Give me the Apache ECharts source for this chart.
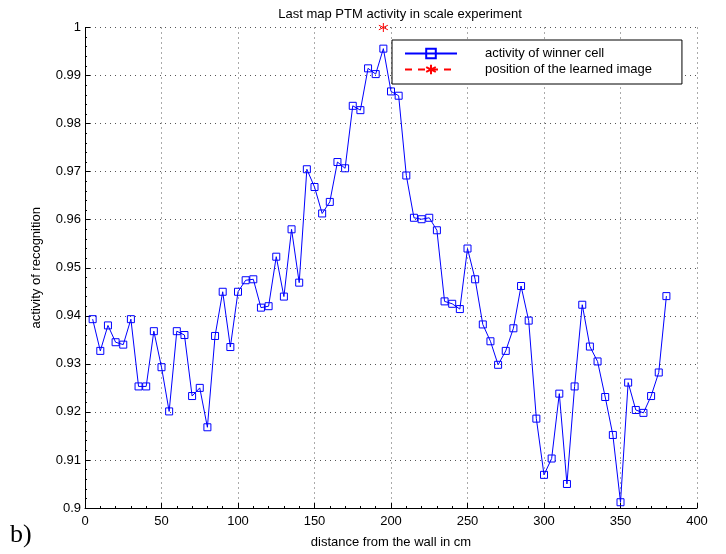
<!DOCTYPE html>
<html>
<head>
<meta charset="utf-8">
<script src="https://cdn.jsdelivr.net/npm/echarts@6/dist/echarts.min.js"></script>
<style>html,body{margin:0;padding:0;background:#fff}#c{width:726px;height:554px}</style>
</head>
<body>
<div id="c"></div>
<script>
var distances = [5,10,15,20,25,30,35,40,45,50,55,60,65,70,75,80,85,90,95,100,105,110,115,120,125,130,135,140,145,150,155,160,165,170,175,180,185,190,195,200,205,210,215,220,225,230,235,240,245,250,255,260,265,270,275,280,285,290,295,300,305,310,315,320,325,330,335,340,345,350,355,360,365,370,375,380];
var activity = [0.9393,0.9327,0.938,0.9345,0.934,0.9393,0.9253,0.9253,0.9368,0.9293,0.9201,0.9368,0.936,0.9233,0.925,0.9168,0.9358,0.945,0.9335,0.945,0.9474,0.9476,0.9417,0.942,0.9523,0.944,0.958,0.9469,0.9705,0.9668,0.9613,0.9637,0.972,0.9707,0.9837,0.9828,0.9915,0.9903,0.9956,0.9867,0.9858,0.9692,0.9604,0.9601,0.9604,0.9578,0.943,0.9425,0.9414,0.954,0.9476,0.9382,0.9347,0.9298,0.9327,0.9374,0.9462,0.939,0.9186,0.9069,0.9103,0.9238,0.905,0.9253,0.9423,0.9336,0.9305,0.9231,0.9152,0.9012,0.9261,0.9204,0.9198,0.9233,0.9282,0.9441];
var learnedX = [195];
var learnedY = [1.0];
var seriesNames = ['activity of winner cell', 'position of the learned image'];
var titleText = 'Last map PTM activity in scale experiment';
var xName = 'distance from the wall in cm';
var yName = 'activity of recognition';

var font = 'Liberation Sans, Arial, sans-serif';
var chart = echarts.init(document.getElementById('c'));
var star = 'path://M0,-5L0,5M-4.3,-2.5L4.3,2.5M-4.3,2.5L4.3,-2.5';
chart.setOption({
  animation: false,
  backgroundColor: '#fff',
  title: {
    text: titleText, left: 395, top: 3, textAlign: 'center',
    textStyle: {fontFamily: font, fontSize: 13, fontWeight: 'normal', color: '#000'}
  },
  grid: {left: 85, right: 29, top: 27.5, bottom: 44.5, show: false},
  legend: {
    orient: 'vertical', left: 392, top: 40,
    padding: [7, 30, 8, 12],
    itemGap: 3, itemWidth: 52, itemHeight: 12,
    borderColor: '#000', borderWidth: 1, backgroundColor: '#fff',
    textStyle: {fontFamily: font, fontSize: 13, color: '#000', padding: [0, 0, 0, 23]},
    data: [{name: seriesNames[0]}, {name: seriesNames[1]}]
  },
  xAxis: {
    type: 'value', min: 0, max: 400, interval: 50,
    name: xName, nameLocation: 'middle', nameGap: 28,
    nameTextStyle: {fontFamily: font, fontSize: 13, color: '#000'},
    axisLine: {onZero: false, lineStyle: {color: '#000', width: 1}},
    axisTick: {inside: true, length: 5, lineStyle: {color: '#000'}},
    minorTick: {show: true, splitNumber: 5, length: 2, lineStyle: {color: '#000'}},
    axisLabel: {fontFamily: font, fontSize: 13, color: '#000', margin: 7},
    splitLine: {show: true, lineStyle: {color: '#555', type: [1, 4], width: 1}}
  },
  yAxis: {
    type: 'value', min: 0.9, max: 1, interval: 0.01,
    name: yName, nameLocation: 'middle', nameGap: 42, nameRotate: 90,
    nameTextStyle: {fontFamily: font, fontSize: 13, color: '#000'},
    axisLine: {onZero: false, lineStyle: {color: '#000', width: 1}},
    axisTick: {inside: true, length: 5, lineStyle: {color: '#000'}},
    minorTick: {show: true, splitNumber: 5, length: 2, lineStyle: {color: '#000'}},
    axisLabel: {fontFamily: font, fontSize: 13, color: '#000', margin: 4,
      formatter: function (v) { return String(+v.toFixed(2)); }},
    splitLine: {show: true, lineStyle: {color: '#555', type: [1, 4], width: 1}}
  },
  series: [
    {
      name: seriesNames[0], type: 'line',
      data: distances.map(function (d, i) { return [d, activity[i]]; }),
      symbol: 'rect', symbolSize: 7, showSymbol: true,
      lineStyle: {color: '#0000ff', width: 1},
      itemStyle: {color: 'rgba(0,0,0,0)', borderColor: '#0000ff', borderWidth: 1},
      z: 3
    },
    {
      name: seriesNames[1], type: 'line',
      data: learnedX.map(function (d, i) { return [d, learnedY[i]]; }),
      symbol: star, symbolSize: 9, showSymbol: true,
      lineStyle: {color: '#ff0000', width: 1, type: [7, 6]},
      itemStyle: {color: '#ff0000', borderColor: '#ff0000', borderWidth: 1},
      z: 4
    }
  ],
  graphic: [
    {type: 'text', left: 10, top: 522,
     style: {text: 'b)', font: '26px "Liberation Serif", "DejaVu Serif", serif', fill: '#000'}}
  ]
});
</script>
</body>
</html>
